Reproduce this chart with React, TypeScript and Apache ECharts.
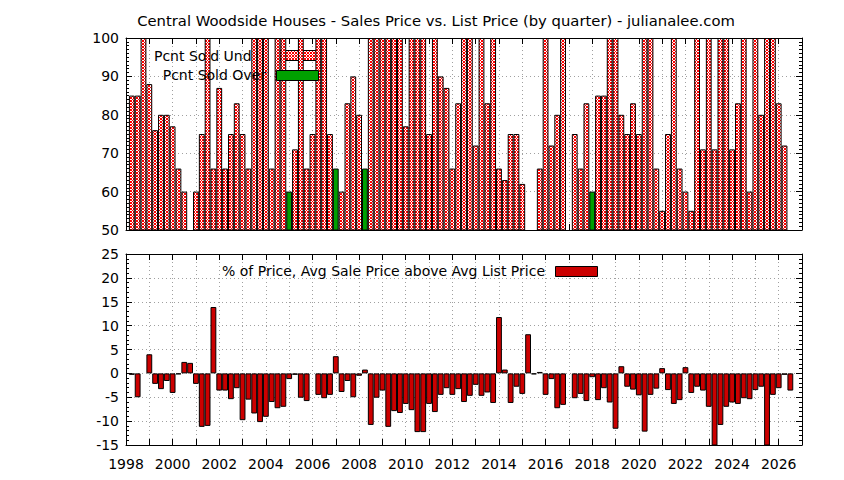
import * as echarts from 'echarts'
import { useEffect, useRef } from 'react'

// quarters are plotted from 1998.25 on, one bar per quarter
const firstQuarter = 1998.25
const quarterStep = 0.25

// Pcnt Sold Under (null = below the 50% floor of the axis)
const pctSoldUnder: (number | null)[] = [
  85, 85, 100, 88, 76, 80, 80, 77,
  66, 60, null, 60, 75, 100, 66, 87,
  66, 75, 83, 75, 66, 100, 100, 100,
  66, 100, 100, null, 71, 100, 66, 75,
  100, 100, 75, null, 60, 83, 90, 80,
  null, 100, 100, 100, 100, 100, 100, 77,
  100, 100, 100, 75, 100, 90, 87, 66,
  83, 100, 100, 72, 100, 83, 100, 66,
  63, 75, 75, 62, null, null, 66, 100,
  72, 80, 100, null, 75, 66, 83, null,
  85, 85, 100, 100, 80, 75, 83, 75,
  100, 100, 66, 55, 75, 100, 66, 60,
  55, 100, 71, 100, 71, 100, 100, 71,
  83, 100, 60, 100, 80, 100, 100, 83,
  72, null
]

// Pcnt Sold Over
const pctSoldOver: (number | null)[] = [
  null, null, null, null, null, null, null, null,
  null, null, null, null, null, null, null, null,
  null, null, null, null, null, null, null, null,
  null, null, null, 60, null, null, null, null,
  null, null, null, 66, null, null, null, null,
  66, null, null, null, null, null, null, null,
  null, null, null, null, null, null, null, null,
  null, null, null, null, null, null, null, null,
  null, null, null, null, null, null, null, null,
  null, null, null, null, null, null, null, 60,
  null, null, null, null, null, null, null, null,
  null, null, null, null, null, null, null, null,
  null, null, null, null, null, null, null, null,
  null, null, null, null, null, null, null, null,
  null, null
]

// % of Price, Avg Sale Price above Avg List Price
const pctAboveList: (number | null)[] = [
  -0.3, -5.0, null, 4.0, -2.2, -3.3, -1.6, -4.1,
  -0.2, 2.4, 2.2, -2.2, -11.2, -11.0, 13.9, -3.6,
  -3.6, -5.4, -3.1, -9.8, -5.5, -8.4, -10.2, -9.1,
  -6.0, -7.3, -7.0, -1.2, -0.3, -5.1, -5.8, null,
  -4.5, -5.2, -4.5, 3.6, -3.9, -1.6, -5.0, -0.5,
  0.8, -10.8, -5.1, -3.6, -11.2, -7.9, -8.3, -6.4,
  -7.7, -12.3, -12.3, -6.4, -8.1, -4.5, -3.1, -4.5,
  -3.3, -6.0, -4.7, -2.4, -4.7, -4.0, -6.2, 11.8,
  0.8, -6.2, -2.8, -4.3, 8.2, -0.2, 0.3, -4.5,
  -1.2, -7.3, -6.6, null, -5.2, -4.3, -5.8, -0.8,
  -5.6, -3.1, -6.1, -11.6, 1.5, -2.8, -3.4, -4.6,
  -12.2, -4.5, -3.2, 1.1, -3.5, -6.4, -5.6, 1.3,
  -4.1, -2.8, -3.6, -7.0, -16, -10.8, -7.0, -6.1,
  -6.4, -5.2, -5.4, -3.5, -2.8, -16, -4.5, -3.1,
  -0.3, -3.6
]

const font = '"DejaVu Sans", sans-serif'
const barWidth = 5.82

const toPoints = (values: (number | null)[]) =>
  values.map((v, i) => [firstQuarter + i * quarterStep, v])

// small crosshatch tile (red mesh with white holes), as vector so it stays crisp
const hatchSvg =
  '<svg xmlns="http://www.w3.org/2000/svg" width="3" height="3" shape-rendering="crispEdges">' +
  '<rect width="3" height="3" fill="#fff"/>' +
  '<rect x="0" y="0" width="1" height="1" fill="#f00"/>' +
  '<rect x="1" y="1" width="1" height="1" fill="#f00"/>' +
  '<rect x="2" y="2" width="1" height="1" fill="#f00"/>' +
  '<rect x="2" y="1" width="1" height="1" fill="#f00"/>' +
  '<rect x="1" y="2" width="1" height="1" fill="#f00"/>' +
  '</svg>'

function App() {
  const chartRef = useRef<HTMLDivElement>(null)

  useEffect(() => {
    if (!chartRef.current) return
    const chart = echarts.init(chartRef.current, null, { renderer: 'svg' })

    const checker: any = {
      image: 'data:image/svg+xml;charset=utf-8,' + encodeURIComponent(hatchSvg),
      repeat: 'repeat',
      imageWidth: 3,
      imageHeight: 3
    }

    const dotted = {
      show: true,
      showMinLine: false,
      showMaxLine: false,
      lineStyle: { color: '#a0a0a0', width: 1, type: [1, 3] }
    }
    const black = { color: '#000' }

    const xAxis = (gridIndex: number, position: string, labels: boolean, grid: boolean) => ({
      type: 'value',
      gridIndex,
      position,
      min: 1998,
      max: 2027,
      interval: 1,
      axisLine: { show: true, onZero: false, lineStyle: black },
      axisTick: { show: true, inside: true, length: 6, lineStyle: black },
      axisLabel: {
        show: labels,
        margin: 12,
        color: '#000',
        fontFamily: font,
        fontSize: 14,
        formatter: (v: number) => (v % 2 === 0 && v < 2027 ? String(v) : '')
      },
      splitLine: grid ? dotted : { show: false }
    })

    const yAxis = (
      gridIndex: number,
      position: string,
      min: number,
      max: number,
      interval: number,
      minor: number,
      labels: boolean
    ) => ({
      type: 'value',
      gridIndex,
      position,
      min,
      max,
      interval,
      axisLine: { show: true, onZero: false, lineStyle: black },
      axisTick: { show: true, inside: true, length: 6, lineStyle: black },
      minorTick: { show: true, splitNumber: minor, length: 3, lineStyle: black },
      axisLabel: {
        show: labels,
        margin: 7,
        color: '#000',
        fontFamily: font,
        fontSize: 14
      },
      splitLine: labels ? dotted : { show: false }
    })

    const text = (
      str: string,
      x: number,
      y: number,
      align: string,
      z: number,
      size = 14
    ) => ({
      type: 'text',
      x,
      y,
      z,
      style: {
        text: str,
        font: `${size}px ${font}`,
        fill: '#000',
        textAlign: align,
        textVerticalAlign: 'middle'
      }
    })

    chart.setOption({
      animation: false,
      backgroundColor: '#fff',
      grid: [
        { left: 126, top: 38, right: 42, height: 192 },
        { left: 126, top: 254, right: 42, height: 191 }
      ],
      xAxis: [
        xAxis(0, 'bottom', false, true),
        xAxis(0, 'top', false, false),
        xAxis(1, 'bottom', true, true),
        xAxis(1, 'top', false, false)
      ],
      yAxis: [
        yAxis(0, 'left', 50, 100, 10, 10, true),
        yAxis(0, 'right', 50, 100, 10, 10, false),
        yAxis(1, 'left', -15, 25, 5, 5, true),
        yAxis(1, 'right', -15, 25, 5, 5, false)
      ],
      graphic: [
        text(
          'Central Woodside Houses - Sales Price vs. List Price (by quarter) - julianalee.com',
          436,
          20,
          'center',
          10,
          14.8
        ),
        // first key entry sits under the bars, as in the original
        text('Pcnt Sold Under', 266, 56, 'right', 1),
        {
          type: 'rect',
          z: 1,
          shape: { x: 276.5, y: 50.5, width: 42, height: 10 },
          style: { fill: checker, stroke: '#000', lineWidth: 1 }
        },
        text('Pcnt Sold Over', 266, 75, 'right', 10),
        {
          type: 'rect',
          z: 10,
          shape: { x: 276.5, y: 70.5, width: 42, height: 10 },
          style: { fill: '#00a000', stroke: '#000', lineWidth: 1 }
        },
        text('% of Price, Avg Sale Price above Avg List Price', 545, 271, 'right', 10),
        {
          type: 'rect',
          z: 10,
          shape: { x: 555.5, y: 266.5, width: 42, height: 10 },
          style: { fill: '#cc0000', stroke: '#000', lineWidth: 1 }
        }
      ],
      series: [
        {
          type: 'bar',
          name: 'Pcnt Sold Under',
          xAxisIndex: 0,
          yAxisIndex: 0,
          barWidth,
          barGap: '-100%',
          data: toPoints(pctSoldUnder),
          itemStyle: { color: checker, borderColor: '#000', borderWidth: 1 }
        },
        {
          type: 'bar',
          name: 'Pcnt Sold Over',
          xAxisIndex: 0,
          yAxisIndex: 0,
          barWidth,
          barGap: '-100%',
          z: 4,
          data: toPoints(pctSoldOver),
          itemStyle: { color: '#00a000', borderColor: '#000', borderWidth: 1 }
        },
        {
          type: 'bar',
          name: '% of Price, Avg Sale Price above Avg List Price',
          xAxisIndex: 2,
          yAxisIndex: 2,
          barWidth,
          data: toPoints(pctAboveList),
          itemStyle: { color: '#cc0000', borderColor: '#000', borderWidth: 1 }
        }
      ]
    } as any)

    return () => {
      chart.dispose()
    }
  }, [])

  return (
    <div
      ref={chartRef}
      style={{ position: 'fixed', left: 0, top: 0, width: '844px', height: '480px' }}
    />
  )
}

export default App
